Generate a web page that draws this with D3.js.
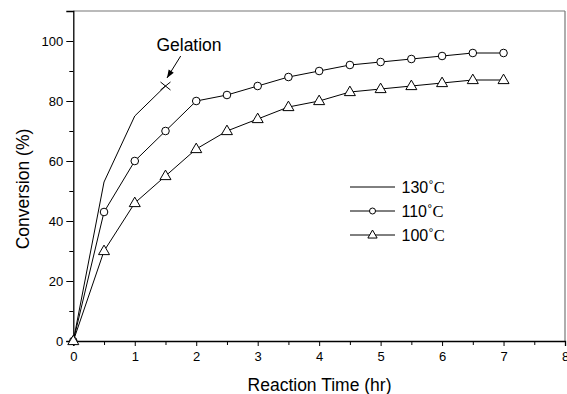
<!DOCTYPE html>
<html><head><meta charset="utf-8">
<script src="https://cdn.jsdelivr.net/npm/d3@7"></script>
<style>
body{margin:0;background:#fff;}
svg{display:block;font-family:Arial,"Liberation Sans",sans-serif;}
</style></head>
<body><svg id="c" width="567" height="394"></svg>
<script>
const time = [0,0.5,1,1.5,2,2.5,3,3.5,4,4.5,5,5.5,6,6.5,7];
const series130 = [0,53,75,85];
const series110 = [0,43,60,70,80,82,85,88,90,92,93,94,95,96,96];
const series100 = [0,30,46,55,64,70,74,78,80,83,84,85,86,87,87];
const xTicks = [0,1,2,3,4,5,6,7,8];
const yTicks = [0,20,40,60,80,100];
const legendLabels = ["130","110","100"];

const svg = d3.select("#c");
const x = d3.scaleLinear().domain([0,8]).range([73.3,565]);
const y = d3.scaleLinear().domain([0,110]).range([341,11]);

// frame top/right
svg.append("line").attr("x1",x(0)).attr("x2",x(8)).attr("y1",y(110)).attr("y2",y(110)).attr("stroke","#777").attr("stroke-width",1.2);
svg.append("line").attr("x1",x(8)).attr("x2",x(8)).attr("y1",y(110)).attr("y2",y(0)).attr("stroke","#777").attr("stroke-width",1.2);

// x axis
const gx = svg.append("g").attr("transform",`translate(0,${y(0)})`);
gx.call(d3.axisBottom(x).tickValues(xTicks).tickFormat(d3.format("d")).tickSize(5).tickPadding(6));
gx.selectAll(".tick").filter(d=>false);
const gxm = svg.append("g").attr("transform",`translate(0,${y(0)})`);
gxm.call(d3.axisBottom(x).tickValues(d3.range(0.5,8,1)).tickFormat("").tickSize(4));
gxm.select(".domain").remove();
// y axis
const gy = svg.append("g").attr("transform",`translate(${x(0)},0)`);
gy.call(d3.axisLeft(y).tickValues(yTicks).tickFormat(d3.format("d")).tickSize(7).tickPadding(3));
const gym = svg.append("g").attr("transform",`translate(${x(0)},0)`);
gym.call(d3.axisLeft(y).tickValues(d3.range(10,110,20)).tickFormat("").tickSize(4));
gym.select(".domain").remove();
svg.selectAll(".domain").attr("stroke","#000").attr("stroke-width",1.3);
svg.selectAll(".tick line").attr("stroke","#000").attr("stroke-width",1);
svg.selectAll(".tick text").attr("font-size",13).attr("font-family",'Arial,"Liberation Sans",sans-serif').attr("fill","#000");

// titles
svg.append("text").attr("x",319.5).attr("y",391).attr("text-anchor","middle").attr("font-size",17.5).text("Reaction Time (hr)");
svg.append("text").attr("transform","translate(29,189) rotate(-90)").attr("text-anchor","middle").attr("font-size",17.5).text("Conversion (%)");

const line = d3.line().x((d,i)=>x(time[i])).y(d=>y(d));
function drawLine(data){
  svg.append("path").datum(data).attr("d",line).attr("fill","none").attr("stroke","#000").attr("stroke-width",1);
}
drawLine(series130); drawLine(series110); drawLine(series100);

const tri = (cx,cy,s)=>`M${cx},${cy-s*0.62}L${cx+s*0.58},${cy+s*0.38}L${cx-s*0.58},${cy+s*0.38}Z`;
// circles
svg.append("g").selectAll("circle").data(series110).join("circle")
  .attr("cx",(d,i)=>x(time[i])).attr("cy",d=>y(d)).attr("r",3.8)
  .attr("fill","#fff").attr("stroke","#000").attr("stroke-width",1);
// triangles
svg.append("g").selectAll("path").data(series100).join("path")
  .attr("d",(d,i)=>tri(x(time[i]),y(d),9.5))
  .attr("fill","#fff").attr("stroke","#000").attr("stroke-width",1);
// cross at gelation
const gi = series130.length-1;
const gxp = x(time[gi]), gyp = y(series130[gi]);
svg.append("path").attr("d",`M${gxp-5},${gyp-4}L${gxp+5},${gyp+4}M${gxp-5},${gyp+4}L${gxp+5},${gyp-4}`)
  .attr("stroke","#000").attr("stroke-width",1).attr("fill","none");

// Gelation annotation
svg.append("text").attr("x",189).attr("y",51).attr("text-anchor","middle").attr("font-size",17.5).text("Gelation");
const ax1=180.7, ay1=56, ax2=gxp+1.5, ay2=gyp-8;
svg.append("line").attr("x1",ax1).attr("y1",ay1).attr("x2",ax2).attr("y2",ay2).attr("stroke","#000").attr("stroke-width",1);
{
  const ang=Math.atan2(ay2-ay1,ax2-ax1), L=8, W=3;
  const bx=ax2-L*Math.cos(ang), by=ay2-L*Math.sin(ang);
  const px=-Math.sin(ang)*W, py=Math.cos(ang)*W;
  svg.append("path").attr("d",`M${ax2},${ay2}L${bx+px},${by+py}L${bx-px},${by-py}Z`).attr("fill","#000");
}

// legend
const lg = svg.append("g");
const ly = [187,211,235];
legendLabels.forEach((lab,i)=>{
  lg.append("line").attr("x1",350).attr("x2",395).attr("y1",ly[i]).attr("y2",ly[i]).attr("stroke","#000").attr("stroke-width",1);
  if(i===1) lg.append("circle").attr("cx",372.5).attr("cy",ly[i]).attr("r",3).attr("fill","#fff").attr("stroke","#000");
  if(i===2) lg.append("path").attr("d",tri(372.5,ly[i],8)).attr("fill","#fff").attr("stroke","#000");
  const t = lg.append("text").attr("x",401.5).attr("y",ly[i]+6).attr("font-size",16);
  t.append("tspan").text(lab);
  t.append("tspan").attr("font-family",'"Liberation Serif","Times New Roman",serif').attr("font-size",16.5).text("˚C");
});
</script></body></html>
